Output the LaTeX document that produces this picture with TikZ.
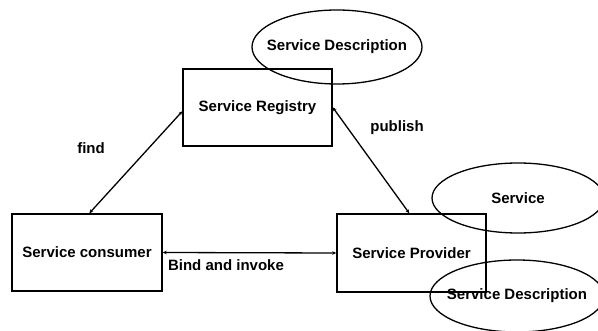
\documentclass[tikz,border=0pt]{standalone}
\usepackage{fontspec}
\setmainfont{Liberation Sans}
\usetikzlibrary{shapes.geometric,arrows.meta}
\begin{document}
\begin{tikzpicture}[x=1pt,y=-1pt,
  every node/.style={font=\fontsize{15}{18}\selectfont\bfseries},
  box/.style={draw,line width=1.4pt,rectangle,inner sep=0pt},
  oval/.style={draw,line width=1.3pt,ellipse,inner ysep=0pt,inner xsep=-12pt},
  link/.style={line width=1.3pt,{Stealth[length=4pt,width=3.5pt]}-{Stealth[length=4pt,width=3.5pt]}},
  lbl/.style={inner sep=0pt}]
\useasboundingbox (0,0) rectangle (598,331);
\node[box,minimum width=149pt,minimum height=77pt] (reg) at (257.5,107.5) {Service Registry};
\node[box,minimum width=150pt,minimum height=77pt] (cons) at (87,252.5) {Service consumer};
\node[box,minimum width=149pt,minimum height=78pt] (prov) at (411.5,253) {Service Provider};
\node[oval,minimum width=170pt,minimum height=74pt] (desc1) at (337,47) {Service Description};
\node[oval,minimum width=172pt,minimum height=70pt] (serv) at (518,198) {Service};
\node[oval,minimum width=174pt,minimum height=72pt] (desc2) at (517,296) {Service Description};
\draw[link] ([xshift=78pt]cons.north west) -- ([yshift=-43pt]reg.north west);
\draw[link] ([yshift=-39pt]reg.north east) -- ([xshift=73pt]prov.north west);
\draw[link] (cons.east) -- (prov.west);
\node[lbl] (lfind) at (91,148) {find};
\node[lbl] (lpub) at (397,128) {publish};
\node[lbl] (lbind) at (226,265) {Bind and invoke};
\end{tikzpicture}
\end{document}
